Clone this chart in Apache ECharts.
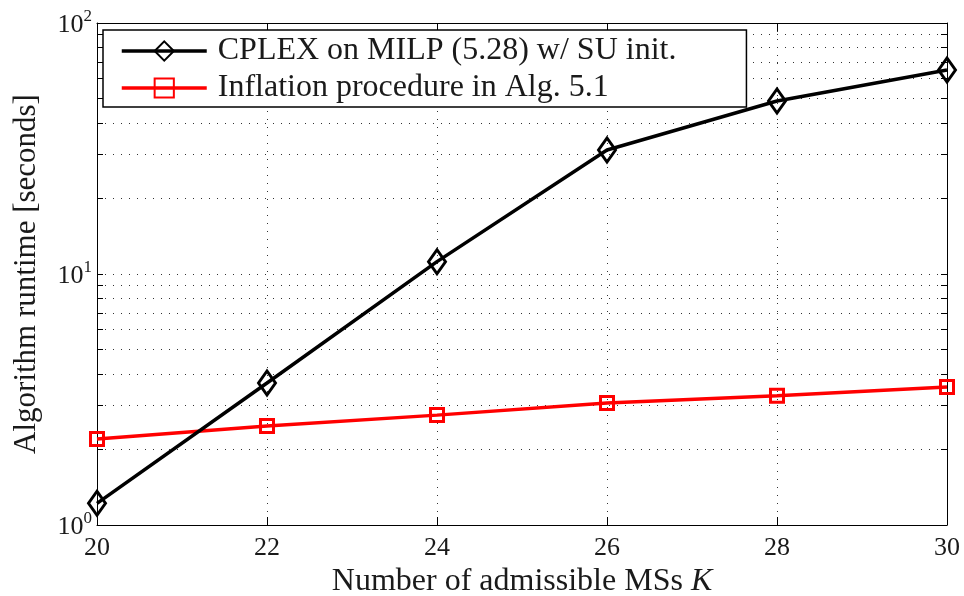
<!DOCTYPE html>
<html>
<head>
<meta charset="utf-8">
<script src="https://cdn.jsdelivr.net/npm/echarts@6/dist/echarts.min.js"></script>
<style>
  html, body { margin: 0; padding: 0; background: #fff; }
  #main { width: 964px; height: 596px; }
</style>
</head>
<body>
<div id="main"></div>
<script>
// 数据
var kValues = [20, 22, 24, 26, 28, 30];
var cplexRuntime = [1.22, 3.68, 11.2, 31.2, 48.9, 65];
var inflationRuntime = [2.20, 2.48, 2.74, 3.06, 3.27, 3.55];
var yTickValues = [1, 2, 3, 4, 5, 6, 7, 8, 9, 10, 20, 30, 40, 50, 60, 70, 80, 90, 100];
var yLabelValues = [1, 10, 100];
var seriesNames = ['CPLEX on MILP (5.28) w/ SU init.', 'Inflation procedure in Alg. 5.1'];

var serif = '"Liberation Serif", "Times New Roman", serif';
var textColor = '#1a1a1a';

function pairs(xs, ys) {
  return xs.map(function (x, i) { return [x, ys[i]]; });
}

var dotted = { show: true, lineStyle: { color: '#333', type: [1, 7], width: 1 } };

var yLabel = {
  customValues: yLabelValues,
  margin: 5,
  fontFamily: serif,
  color: textColor,
  formatter: function (v) {
    return '{b|10}{s|' + Math.round(Math.log10(v)) + '}';
  },
  rich: {
    b: { fontSize: 26, fontFamily: serif, color: textColor, lineHeight: 30, verticalAlign: 'bottom' },
    s: { fontSize: 17, fontFamily: serif, color: textColor, lineHeight: 30, verticalAlign: 'top', padding: [0, 0, 12, 0] }
  }
};

var option = {
  animation: false,
  backgroundColor: '#fff',
  grid: { left: 97, right: 17, top: 23, bottom: 71, outerBoundsMode: 'none', containLabel: false },
  legend: {
    left: 103,
    top: 30,
    orient: 'vertical',
    backgroundColor: '#fff',
    borderColor: '#000',
    borderWidth: 1.5,
    borderRadius: 0,
    padding: [5, 70, 3, 17],
    itemGap: 5,
    itemWidth: 85,
    itemHeight: 24,
    lineStyle: { width: 3.5 },
    textStyle: { fontFamily: serif, fontSize: 32, lineHeight: 30, color: textColor, padding: [0, 0, 0, 6] },
    data: seriesNames
  },
  xAxis: [{
    type: 'value',
    min: 20, max: 30, interval: 2,
    name: '{n|Number of admissible MSs }{k|K}',
    nameLocation: 'middle',
    nameGap: 38,
    nameTextStyle: {
      rich: {
        n: { fontFamily: serif, fontSize: 32, color: textColor },
        k: { fontFamily: serif, fontSize: 32, color: textColor, fontStyle: 'italic' }
      }
    },
    axisLine: { lineStyle: { color: '#000', width: 1 } },
    axisTick: { inside: true, length: 8, lineStyle: { color: '#000' } },
    axisLabel: { fontFamily: serif, fontSize: 26, color: textColor, margin: 10 },
    splitLine: dotted
  }, {
    type: 'value',
    position: 'top',
    min: 20, max: 30, interval: 2,
    axisLine: { show: true, lineStyle: { color: '#000', width: 1 } },
    axisTick: { inside: true, length: 8, lineStyle: { color: '#000' } },
    axisLabel: { show: false },
    splitLine: { show: false }
  }],
  yAxis: [{
    type: 'log',
    logBase: 10,
    min: 1, max: 100,
    name: 'Algorithm runtime [seconds]',
    nameLocation: 'middle',
    nameGap: 55,
    nameTextStyle: { fontFamily: serif, fontSize: 31, color: textColor },
    axisLine: { show: true, lineStyle: { color: '#000', width: 1 } },
    axisTick: { inside: true, length: 6, customValues: yTickValues, lineStyle: { color: '#000' } },
    axisLabel: yLabel,
    splitLine: dotted
  }, {
    type: 'log',
    logBase: 10,
    min: 1, max: 100,
    position: 'right',
    axisLine: { show: true, lineStyle: { color: '#000', width: 1 } },
    axisTick: { inside: true, length: 6, customValues: yTickValues, lineStyle: { color: '#000' } },
    axisLabel: { show: false },
    splitLine: { show: false }
  }],
  series: [{
    name: seriesNames[0],
    type: 'line',
    data: pairs(kValues, cplexRuntime),
    symbol: 'diamond',
    symbolSize: [17, 24],
    showAllSymbol: true,
    clip: false,
    lineStyle: { color: '#000', width: 3.5 },
    itemStyle: { color: 'rgba(0,0,0,0)', borderColor: '#000', borderWidth: 3 },
    z: 3
  }, {
    name: seriesNames[1],
    type: 'line',
    data: pairs(kValues, inflationRuntime),
    symbol: 'rect',
    symbolSize: 13,
    showAllSymbol: true,
    clip: false,
    lineStyle: { color: '#ff0000', width: 3.5 },
    itemStyle: { color: 'rgba(0,0,0,0)', borderColor: '#ff0000', borderWidth: 3 },
    z: 2
  }]
};

var myChart = echarts.init(document.getElementById('main'));
myChart.setOption(option);
</script>
</body>
</html>
